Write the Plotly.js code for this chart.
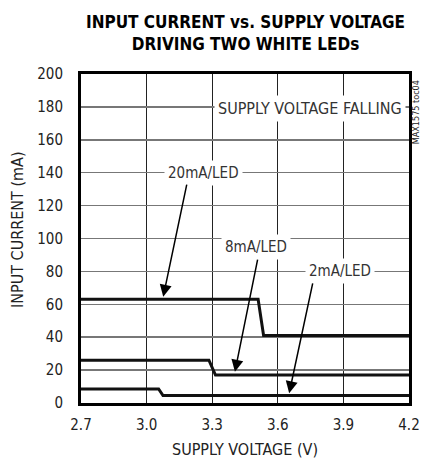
<!DOCTYPE html>
<html>
<head>
<meta charset="utf-8">
<script src="https://cdn.plot.ly/plotly-3.0.1.min.js"></script>
<style>
html,body{margin:0;padding:0;background:#fff;}
#chart{width:422px;height:461px;}
</style>
</head>
<body>
<div id="chart"></div>
<script>
// Data (supply voltage falling)
const v20 = [2.7, 3.51, 3.535, 4.2];
const i20 = [63, 63, 41, 41];
const v8 = [2.7, 3.285, 3.315, 4.2];
const i8 = [26, 26, 17, 17];
const v2 = [2.7, 3.055, 3.075, 4.2];
const i2 = [8.5, 8.5, 4.5, 4.5];

const xTicks = [2.7, 3.0, 3.3, 3.6, 3.9, 4.2];
const xTickText = ['2.7', '3.0', '3.3', '3.6', '3.9', '4.2'];
const yTicks = [0, 20, 40, 60, 80, 100, 120, 140, 160, 180, 200];

const FONT = '"DejaVu Sans Condensed", "Liberation Sans Narrow", "Roboto Condensed", "Arial Narrow", Roboto, sans-serif';

function line(x, y, name) {
  return {x: x, y: y, type: 'scatter', mode: 'lines', name: name,
          line: {color: '#111', width: 3, shape: 'linear'}, hoverinfo: 'skip'};
}

const traces = [line(v20, i20, '20mA/LED'), line(v8, i8, '8mA/LED'), line(v2, i2, '2mA/LED')];

function label(text, x, y, size) {
  return {text: text, x: x, y: y, xref: 'x', yref: 'y', showarrow: false,
          bgcolor: '#fff', borderpad: 3, font: {family: FONT, size: size, color: '#333'}};
}
function arrow(x, y, ax, ay) {
  return {text: '', x: x, y: y, ax: ax, ay: ay, xref: 'x', yref: 'y', axref: 'x', ayref: 'y',
          showarrow: true, arrowhead: 2, arrowsize: 1.6, arrowwidth: 1.5, arrowcolor: '#000', standoff: 0};
}

const layout = {
  width: 422, height: 461,
  margin: {l: 81, r: 13, t: 74, b: 58},
  paper_bgcolor: '#fff', plot_bgcolor: '#fff',
  showlegend: false,
  font: {family: FONT, size: 15, color: '#222'},
  xaxis: {
    range: [2.7, 4.2], tickvals: xTicks, ticktext: xTickText,
    showgrid: true, gridcolor: '#222', gridwidth: 1,
    zeroline: false, showline: true, linecolor: '#000', linewidth: 3, mirror: true,
    ticks: '', ticklabelstandoff: 6,
    tickfont: {family: FONT, size: 15, color: '#222'},
    title: {text: 'SUPPLY VOLTAGE (V)', font: {family: FONT, size: 16, color: '#222'}, standoff: 11}
  },
  yaxis: {
    range: [0, 200], tickvals: yTicks,
    showgrid: true, gridcolor: '#777', gridwidth: 1.5,
    zeroline: false, showline: true, linecolor: '#000', linewidth: 3, mirror: true,
    ticks: '', ticklabelstandoff: 12,
    tickfont: {family: FONT, size: 15, color: '#222'}
  },
  annotations: [
    {text: '<b>INPUT CURRENT vs. SUPPLY VOLTAGE<br>DRIVING TWO WHITE LEDs</b>',
     xref: 'paper', yref: 'paper', x: 0.5, y: 1.196, xanchor: 'center', yanchor: 'top',
     showarrow: false, font: {family: FONT, size: 17, color: '#000'}},
    label('SUPPLY VOLTAGE FALLING', 3.747, 179, 16),
    label('20mA/LED', 3.26, 140, 15),
    label('8mA/LED', 3.502, 95, 15),
    label('2mA/LED', 3.885, 80, 15),
    arrow(3.076, 64.6, 3.185, 133.7),
    arrow(3.404, 19, 3.509, 88.1),
    arrow(3.652, 5.9, 3.761, 73.6),
    {text: 'INPUT CURRENT (mA)', xref: 'paper', yref: 'paper', x: -0.192, xanchor: 'center', y: 0.526, yanchor: 'middle',
     textangle: -90, showarrow: false, font: {family: FONT, size: 16, color: '#222'}},
    {text: 'MAX1575 toc04', xref: 'paper', yref: 'paper', x: 1.0195, xanchor: 'center', y: 0.885, yanchor: 'middle',
     textangle: -90, showarrow: false, borderpad: 0, font: {family: FONT, size: 9, color: '#222'}}
  ]
};

Plotly.newPlot('chart', traces, layout, {staticPlot: true, displayModeBar: false});
</script>
</body>
</html>
